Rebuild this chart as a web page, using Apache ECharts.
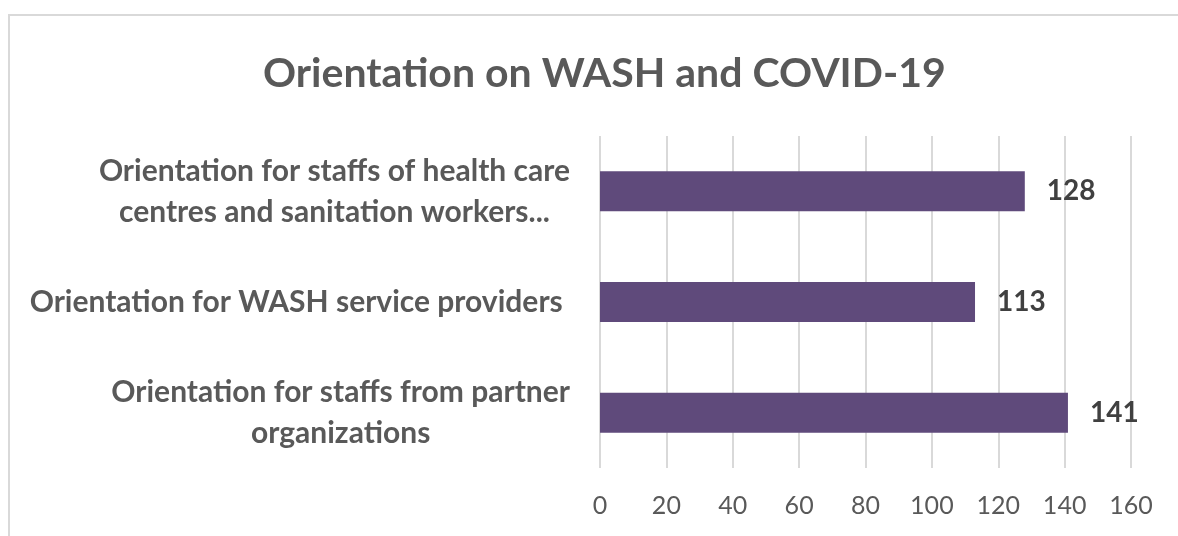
<!DOCTYPE html>
<html>
<head>
<meta charset="utf-8">
<script src="https://cdn.jsdelivr.net/npm/echarts@6/dist/echarts.min.js"></script>
<style>html,body{margin:0;padding:0;background:#fff;}#c{width:1178px;height:536px;}</style>
</head>
<body>
<div id="c"></div>
<script>
var titleText = "Orientation on WASH and COVID-19";
var categories = [
  "Orientation for staffs of health care\ncentres and sanitation workers...",
  "Orientation for WASH service providers ",
  "Orientation for staffs from partner\norganizations"
];
var values = [128, 113, 141];
var tickMin = 0, tickMax = 160, tickStep = 20;

var chart = echarts.init(document.getElementById('c'), null, {renderer: 'canvas'});
var FONT = 'Lato, "Open Sans", sans-serif';
chart.setOption({
  animation: false,
  backgroundColor: '#ffffff',
  graphic: [{
    type: 'rect', silent: true, z: -1,
    shape: {x: 9, y: 15, width: 1200, height: 600},
    style: {fill: 'none', stroke: '#d9d9d9', lineWidth: 2}
  }],
  title: {
    text: titleText, left: 258, top: 48,
    textStyle: {fontFamily: FONT, fontWeight: 'bold', fontSize: 41, color: '#595959'}
  },
  grid: {left: 600, right: 47, top: 136, bottom: 68, containLabel: false},
  xAxis: {
    type: 'value', min: tickMin, max: tickMax, interval: tickStep,
    axisLine: {show: false}, axisTick: {show: false},
    splitLine: {show: true, lineStyle: {color: '#d9d9d9', width: 2}},
    axisLabel: {fontFamily: FONT, fontSize: 25, color: '#595959', margin: 25}
  },
  yAxis: {
    type: 'category', inverse: true, data: categories,
    axisLine: {show: false}, axisTick: {show: false}, splitLine: {show: false},
    axisLabel: {
      margin: 30, align: 'right',
      formatter: function (v) { return v.split('\n').map(function (s) { return '{c|' + s + '}'; }).join('\n'); },
      rich: {c: {align: 'center', fontFamily: FONT, fontWeight: 'bold', fontSize: 30, lineHeight: 41, color: '#595959'}}
    }
  },
  series: [{
    type: 'bar', data: values, barWidth: 40,
    itemStyle: {color: '#5f4a7b'},
    label: {show: true, position: 'right', distance: 22, fontFamily: FONT, fontWeight: 'bold', fontSize: 28, color: '#404040'}
  }]
});
</script>
</body>
</html>
